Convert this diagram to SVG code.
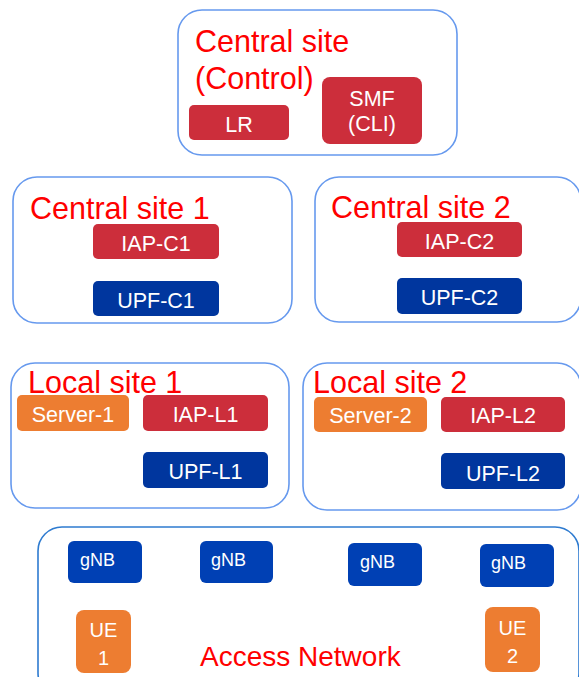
<svg xmlns="http://www.w3.org/2000/svg" width="579" height="677" viewBox="0 0 579 677">
  <style>
    .site { fill: #ffffff; stroke: #6699EE; stroke-width: 1.6; }
    .access { fill: #ffffff; stroke: #2E7BD0; stroke-width: 1.6; }
    .title { font-family: "Liberation Sans", Arial, sans-serif; font-size: 30.5px; fill: #FF0000; }
    .red { fill: #CC2E3B; }
    .blue { fill: #00369E; }
    .gnb { fill: #0040B4; }
    .orange { fill: #ED7D31; }
    .lbl { font-family: "Liberation Sans", Arial, sans-serif; font-size: 21.5px; fill: #ffffff; text-anchor: middle; }
    .small { font-family: "Liberation Sans", Arial, sans-serif; font-size: 18px; fill: #ffffff; }
    .ue { font-family: "Liberation Sans", Arial, sans-serif; font-size: 20px; fill: #ffffff; text-anchor: middle; }
  </style>

  <!-- Central site (Control) -->
  <g id="central-control">
    <rect class="site" x="178" y="10" width="279" height="145" rx="24"/>
    <text class="title" x="195" y="52">Central site</text>
    <text class="title" x="195" y="89">(Control)</text>
    <g id="lr">
      <rect class="red" x="189" y="105" width="100" height="35" rx="5"/>
      <text class="lbl" x="239" y="132">LR</text>
    </g>
    <g id="smf">
      <rect class="red" x="322" y="77" width="100" height="67" rx="8"/>
      <text class="lbl" x="372" y="106">SMF</text>
      <text class="lbl" x="372" y="131">(CLI)</text>
    </g>
  </g>

  <!-- Central site 1 -->
  <g id="central-1">
    <rect class="site" x="13" y="177" width="279" height="146" rx="24"/>
    <text class="title" x="30" y="219">Central site 1</text>
    <g id="iap-c1">
      <rect class="red" x="93" y="224" width="126" height="35" rx="5"/>
      <text class="lbl" x="156" y="251">IAP-C1</text>
    </g>
    <g id="upf-c1">
      <rect class="blue" x="93" y="281" width="126" height="35" rx="5"/>
      <text class="lbl" x="156" y="308">UPF-C1</text>
    </g>
  </g>

  <!-- Central site 2 -->
  <g id="central-2">
    <rect class="site" x="315" y="177" width="266" height="145" rx="24"/>
    <text class="title" x="331" y="218">Central site 2</text>
    <g id="iap-c2">
      <rect class="red" x="397" y="222" width="125" height="35" rx="5"/>
      <text class="lbl" x="459.5" y="249">IAP-C2</text>
    </g>
    <g id="upf-c2">
      <rect class="blue" x="397" y="278" width="125" height="36" rx="5"/>
      <text class="lbl" x="459.5" y="305">UPF-C2</text>
    </g>
  </g>

  <!-- Local site 1 -->
  <g id="local-1">
    <rect class="site" x="11" y="363" width="278" height="145" rx="24"/>
    <text class="title" x="28" y="393">Local site 1</text>
    <g id="server-1">
      <rect class="orange" x="17" y="395" width="112" height="36" rx="5"/>
      <text class="lbl" x="73" y="422">Server-1</text>
    </g>
    <g id="iap-l1">
      <rect class="red" x="143" y="395" width="125" height="36" rx="5"/>
      <text class="lbl" x="205.5" y="422">IAP-L1</text>
    </g>
    <g id="upf-l1">
      <rect class="blue" x="143" y="452" width="125" height="36" rx="5"/>
      <text class="lbl" x="205.5" y="479">UPF-L1</text>
    </g>
  </g>

  <!-- Local site 2 -->
  <g id="local-2">
    <rect class="site" x="303" y="363" width="278" height="147" rx="24"/>
    <text class="title" x="313" y="393">Local site 2</text>
    <g id="server-2">
      <rect class="orange" x="314" y="397" width="113" height="35" rx="5"/>
      <text class="lbl" x="370.5" y="423">Server-2</text>
    </g>
    <g id="iap-l2">
      <rect class="red" x="441" y="397" width="124" height="35" rx="5"/>
      <text class="lbl" x="503" y="423">IAP-L2</text>
    </g>
    <g id="upf-l2">
      <rect class="blue" x="441" y="453" width="124" height="36" rx="5"/>
      <text class="lbl" x="503" y="481">UPF-L2</text>
    </g>
  </g>

  <!-- Access Network -->
  <g id="access-network">
    <rect class="access" x="38" y="527" width="541" height="170" rx="24"/>
    <text class="title" x="200" y="666" style="font-size:28px">Access Network</text>
    <g id="gnb-1">
      <rect class="gnb" x="68" y="541" width="74" height="42" rx="6"/>
      <text class="small" x="80" y="566">gNB</text>
    </g>
    <g id="gnb-2">
      <rect class="gnb" x="200" y="541" width="73" height="42" rx="6"/>
      <text class="small" x="211" y="566">gNB</text>
    </g>
    <g id="gnb-3">
      <rect class="gnb" x="348" y="543" width="74" height="43" rx="6"/>
      <text class="small" x="360" y="568">gNB</text>
    </g>
    <g id="gnb-4">
      <rect class="gnb" x="480" y="544" width="74" height="43" rx="6"/>
      <text class="small" x="491" y="569">gNB</text>
    </g>
    <g id="ue-1">
      <rect class="orange" x="76" y="610" width="55" height="63" rx="8"/>
      <text class="ue" x="103.5" y="637">UE</text>
      <text class="ue" x="103.5" y="665">1</text>
    </g>
    <g id="ue-2">
      <rect class="orange" x="485" y="607" width="55" height="65" rx="8"/>
      <text class="ue" x="512.5" y="635">UE</text>
      <text class="ue" x="512.5" y="663">2</text>
    </g>
  </g>

  <!-- no connectors are drawn between these nodes -->
  <g id="connectors"></g>
</svg>
